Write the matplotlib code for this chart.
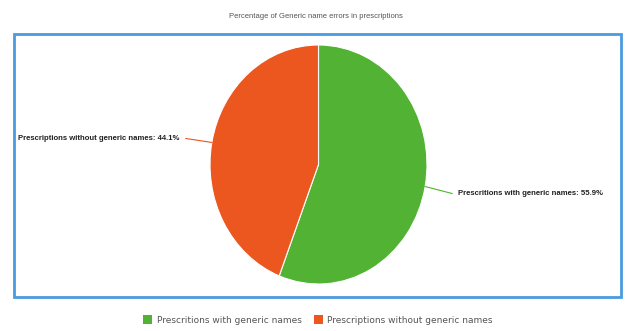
import matplotlib
matplotlib.use("Agg")
import matplotlib.pyplot as plt
import numpy as np
from matplotlib.patches import Rectangle, Patch

categories = ["Prescritions with generic names", "Prescriptions without generic names"]
label_names = ["Prescritions with generic names", "Prescriptions without generic names"]
values = [55.9, 44.1]
colors = ["#52b234", "#ec561f"]
title = "Percentage of Generic name errors in prescriptions"

W, H = 626, 331
fig = plt.figure(figsize=(W / 100, H / 100), dpi=100)
ax = fig.add_axes([0, 0, 1, 1])

# the pie is drawn slightly narrower than tall
rx, ry = 108.5, 119.5
k = ry / rx


def px(x, y):
    """pixel position (origin top-left) -> data coordinates"""
    return x * k, H - y


ax.axis("off")

cx, cy = px(318.5, 164.5)
wedges, _ = ax.pie(values, colors=colors, startangle=90, counterclock=False,
                   center=(cx, cy), radius=ry,
                   wedgeprops=dict(edgecolor="white", linewidth=0.8))
ax.set_aspect("auto")
ax.set_xlim(0, W * k)
ax.set_ylim(0, H)

# blue frame around the plot area
x0, y0 = px(14, 297)
ax.add_patch(Rectangle((x0, y0), 607 * k, 263, fill=False,
                       edgecolor="#4a9be0", linewidth=2.0, clip_on=False))

# outside labels with leader lines
offsets = [(27, 7), (-26, -4)]
for w, name, v, col, (ox, oy) in zip(wedges, label_names, values, colors, offsets):
    ang = np.deg2rad((w.theta1 + w.theta2) / 2)
    ex_px = 318.5 + rx * np.cos(ang)
    ey_px = 164.5 - ry * np.sin(ang)
    lx_px, ly_px = ex_px + ox, ey_px + oy
    side = 1 if ox > 0 else -1
    (ex, ey), (lx, ly) = px(ex_px, ey_px), px(lx_px, ly_px)
    ax.plot([ex, lx], [ey, ly], color=col, linewidth=0.8)
    tx, ty = px(lx_px + side * 6, ly_px)
    ax.text(tx, ty, f"{name}: {v}%", fontsize=5.6, fontweight="bold",
            family="Liberation Sans", color="#222222",
            ha="left" if side > 0 else "right", va="center")

fig.text(316 / W, 1 - 16 / H, title, fontsize=5.5, color="#555555",
         family="Liberation Sans", ha="center", va="center")

handles = [Patch(facecolor=c, edgecolor="none") for c in colors]
fig.legend(handles, categories, loc="center", bbox_to_anchor=(318 / W, 1 - 320 / H),
           ncol=2, frameon=False, fontsize=6.5, handlelength=1.0, handleheight=1.0,
           handletextpad=0.5, columnspacing=1.3, labelcolor="#555555")

fig.savefig("out.png", dpi=100, facecolor="white")
